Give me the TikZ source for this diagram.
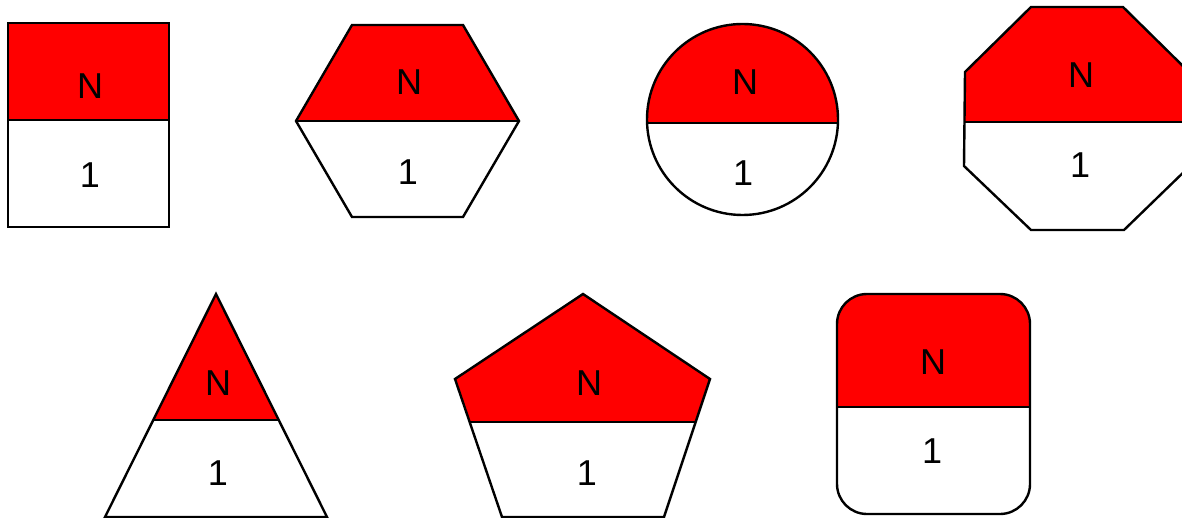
\documentclass[tikz,border=0pt]{standalone}
\usepackage{fontspec}
\setmainfont{Liberation Sans}
\begin{document}
\begin{tikzpicture}[x=1pt,y=-1pt,
  outline/.style={draw=black,line width=2.4pt,line join=miter},
  topfill/.style={fill=red},
  lbl/.style={font=\fontsize{36}{40}\selectfont,inner sep=0pt,anchor=center}]
\useasboundingbox (0,0) rectangle (1182,518);
\def\shapeA{(8,23) rectangle (169,227)}
\def\shapeB{(352,25) -- (463,25) -- (519,121) -- (463,217) -- (352,217) -- (296,121) -- cycle}
\def\shapeC{(742.5,119.5) circle[radius=95.5]}
\def\shapeD{(1031,7) -- (1123,7) -- (1189,72) -- (1190,166) -- (1124,230) -- (1031,230) -- (964,166) -- (965,72) -- cycle}
\def\shapeE{(216,294) -- (327,517) -- (105,517) -- cycle}
\def\shapeF{(583,294) -- (710,379) -- (664,517) -- (502,517) -- (455,379) -- cycle}
\def\shapeG{[rounded corners=30pt] (837,294) rectangle (1030,514)}
\foreach \s/\d in {A/120,B/121,C/123,D/122,E/420,F/422,G/407}{
  \begin{scope}
    \expandafter\clip\csname shape\s\endcsname;
    \fill[white] (0,0) rectangle (1182,518);
    \fill[topfill] (0,0) rectangle (1182,\d);
    \draw[line width=2.4pt] (0,\d) -- (1182,\d);
  \end{scope}
  \expandafter\draw\expandafter[\expandafter o\expandafter u\expandafter t\expandafter l\expandafter i\expandafter n\expandafter e\expandafter]\csname shape\s\endcsname;
}
\node[lbl] (nA) at (90,86) {N};
\node[lbl] (oA) at (90,175) {1};
\node[lbl] (nB) at (409,82) {N};
\node[lbl] (oB) at (408,172) {1};
\node[lbl] (nC) at (745,82) {N};
\node[lbl] (oC) at (743,173) {1};
\node[lbl] (nD) at (1081,75) {N};
\node[lbl] (oD) at (1080,165) {1};
\node[lbl] (nE) at (218,383) {N};
\node[lbl] (oE) at (218,473) {1};
\node[lbl] (nF) at (589,383) {N};
\node[lbl] (oF) at (587,473) {1};
\node[lbl] (nG) at (933,362) {N};
\node[lbl] (oG) at (932,451) {1};
\end{tikzpicture}
\end{document}
